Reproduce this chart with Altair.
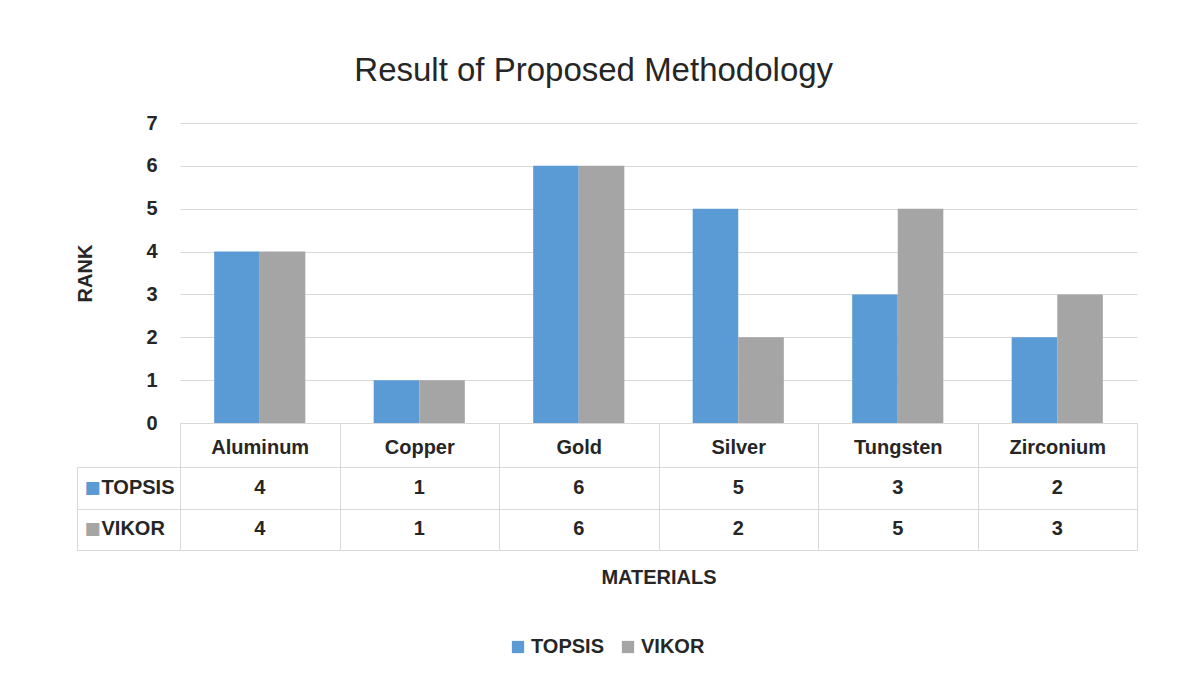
import altair as alt
import pandas as pd

# ---- data ----
materials = ["Aluminum", "Copper", "Gold", "Silver", "Tungsten", "Zirconium"]
series = ["TOPSIS", "VIKOR"]
topsis_rank = [4, 1, 6, 5, 3, 2]
vikor_rank = [4, 1, 6, 2, 5, 3]
rank_ticks = [0, 1, 2, 3, 4, 5, 6, 7]
series_colors = ["#5b9bd5", "#a5a5a5"]

records = []
for m, t, v in zip(materials, topsis_rank, vikor_rank):
    records.append({"material": m, "series": series[0], "rank": t})
    records.append({"material": m, "series": series[1], "rank": v})
df = pd.DataFrame(records)
label_df = pd.DataFrame({"series": series})

# ---- style ----
FONT = "Liberation Sans"
TXT = "#262626"
GRID = "#d9d9d9"
FS = 20
PLOT_W = 957
PLOT_H = 300
COL_W = 103
BODY_H = 83
HEADER_H = 44

color_scale = alt.Scale(domain=series, range=series_colors)
band0 = alt.Scale(paddingInner=0, paddingOuter=0)

placeholder = alt.Chart(label_df).mark_text(text="", opacity=0).properties(
    width=COL_W, height=PLOT_H
)

bars = alt.Chart(df).mark_bar().encode(
    x=alt.X(
        "material:N", sort=materials, scale=band0,
        axis=alt.Axis(
            title=None, labelAngle=0, labelFont=FONT, labelFontSize=FS,
            labelFontWeight="bold", labelColor=TXT, domainColor=GRID,
            tickColor=GRID, tickSize=HEADER_H, tickBand="extent",
            labelPadding=-30, grid=False,
        ),
    ),
    xOffset=alt.XOffset(
        "series:N", sort=series,
        scale=alt.Scale(paddingInner=0, paddingOuter=0.75),
    ),
    y=alt.Y(
        "rank:Q", scale=alt.Scale(domain=[0, 7]),
        axis=alt.Axis(
            values=rank_ticks, title="RANK", titleFont=FONT, titleFontSize=FS,
            titleFontWeight="bold", titleColor=TXT, titlePadding=50,
            labelFont=FONT, labelFontSize=FS, labelFontWeight="bold",
            labelColor=TXT, labelPadding=23, ticks=False, domain=False,
            gridColor=GRID,
        ),
    ),
    color=alt.Color(
        "series:N", scale=color_scale,
        legend=alt.Legend(
            title=None, orient="none", direction="horizontal",
            legendX=431, legendY=514, symbolType="square", symbolSize=150,
            symbolStrokeWidth=0, labelFont=FONT, labelFontSize=FS,
            labelFontWeight="bold", labelColor=TXT, columnPadding=14,
            labelOffset=3,
        ),
    ),
).properties(width=PLOT_W, height=PLOT_H)

label_base = alt.Chart(label_df).encode(
    y=alt.Y(
        "series:N", sort=series, scale=band0,
        axis=alt.Axis(title=None, labels=False, ticks=False, domain=False,
                      grid=True, tickBand="extent", gridColor=GRID),
    )
)
swatch = label_base.mark_text(
    text="\u25a0", font="DejaVu Sans", fontSize=17, dx=-36, baseline="middle"
).encode(color=alt.Color("series:N", scale=color_scale, legend=None))
row_text = label_base.mark_text(
    font=FONT, fontSize=FS, fontWeight="bold", color=TXT, align="left",
    dx=-27, baseline="middle",
).encode(text="series:N")
label_chart = (swatch + row_text).properties(
    width=COL_W, height=BODY_H, view=alt.ViewBackground(stroke=GRID)
)

value_chart = alt.Chart(df).mark_text(
    font=FONT, fontSize=FS, fontWeight="bold", color=TXT, baseline="middle"
).encode(
    x=alt.X(
        "material:N", sort=materials, scale=band0,
        axis=alt.Axis(title="MATERIALS", labels=False, ticks=False,
                      domain=False, grid=True, tickBand="extent",
                      gridColor=GRID, titleFont=FONT, titleFontSize=FS,
                      titleFontWeight="bold", titleColor=TXT,
                      titlePadding=17),
    ),
    y=alt.Y(
        "series:N", sort=series, scale=band0,
        axis=alt.Axis(title=None, labels=False, ticks=False, domain=False,
                      grid=True, tickBand="extent", gridColor=GRID),
    ),
    text="rank:Q",
).properties(width=PLOT_W, height=BODY_H, view=alt.ViewBackground(stroke=GRID))

chart = alt.concat(
    placeholder, bars, label_chart, value_chart,
    columns=2, spacing=alt.RowColnumber(row=HEADER_H, column=0), bounds="flush",
    title=alt.Title(
        "Result of Proposed Methodology", font=FONT, fontSize=33,
        fontWeight="normal", color="#262626", anchor="middle", offset=25,
        dx=-13,
    ),
).properties(
    padding={"left": 67, "top": 47, "right": 30, "bottom": 30},
    background="white",
).configure_view(stroke=None)

chart.save("out.html", embed_options={"renderer": "svg", "actions": False})
